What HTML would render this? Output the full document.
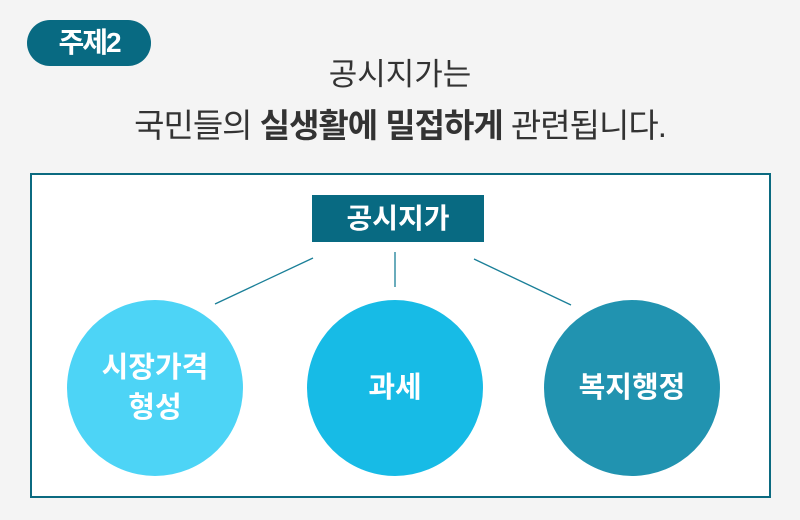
<!DOCTYPE html>
<html><head><meta charset="utf-8"><style>
body{margin:0;width:800px;height:520px;background:#f4f4f4;position:relative;overflow:hidden;font-family:"Liberation Sans","Noto Sans CJK KR","NanumGothic",sans-serif;}
.abs{position:absolute}
.pill{left:27px;top:20px;width:124px;height:46px;border-radius:23px;background:#086a82;color:#fff;font-weight:bold;font-size:28px;line-height:46px;text-align:center;letter-spacing:-2px}
.t{left:0;width:800px;text-align:center;color:#333;letter-spacing:-1px}
.frame{left:30px;top:173px;width:737px;height:321px;border:2px solid #0b6a80;background:#fff}
.title{left:312px;top:195px;width:172px;height:47px;background:#086a82;color:#fff;font-weight:bold;font-size:28px;line-height:47px;text-align:center;letter-spacing:0px}
.c{width:176px;height:176px;border-radius:50%;top:300px;color:#fff;font-weight:bold;font-size:29px;display:flex;align-items:center;justify-content:center;text-align:center;line-height:40px}
</style></head><body>
<div class="abs pill">주제2</div>
<div class="abs t" style="top:56px;font-size:31px;line-height:38px;letter-spacing:0">공시지가는</div>
<div class="abs t" style="top:106px;font-size:33px;line-height:40px">국민들의 <b>실생활에 밀접하게</b> 관련됩니다.</div>
<div class="abs frame"></div>
<div class="abs title">공시지가</div>
<svg class="abs" style="left:0;top:0" width="800" height="520"><g stroke="#1a7f98" stroke-width="1.3"><line x1="313" y1="258" x2="215" y2="304"/><line x1="395" y1="252" x2="395" y2="287"/><line x1="474" y1="259" x2="571" y2="305"/></g></svg>
<div class="abs c" style="left:67px;background:#4dd4f6">시장가격<br>형성</div>
<div class="abs c" style="left:307px;background:#17bbe6">과세</div>
<div class="abs c" style="left:544px;background:#2193b0">복지행정</div>
</body></html>
